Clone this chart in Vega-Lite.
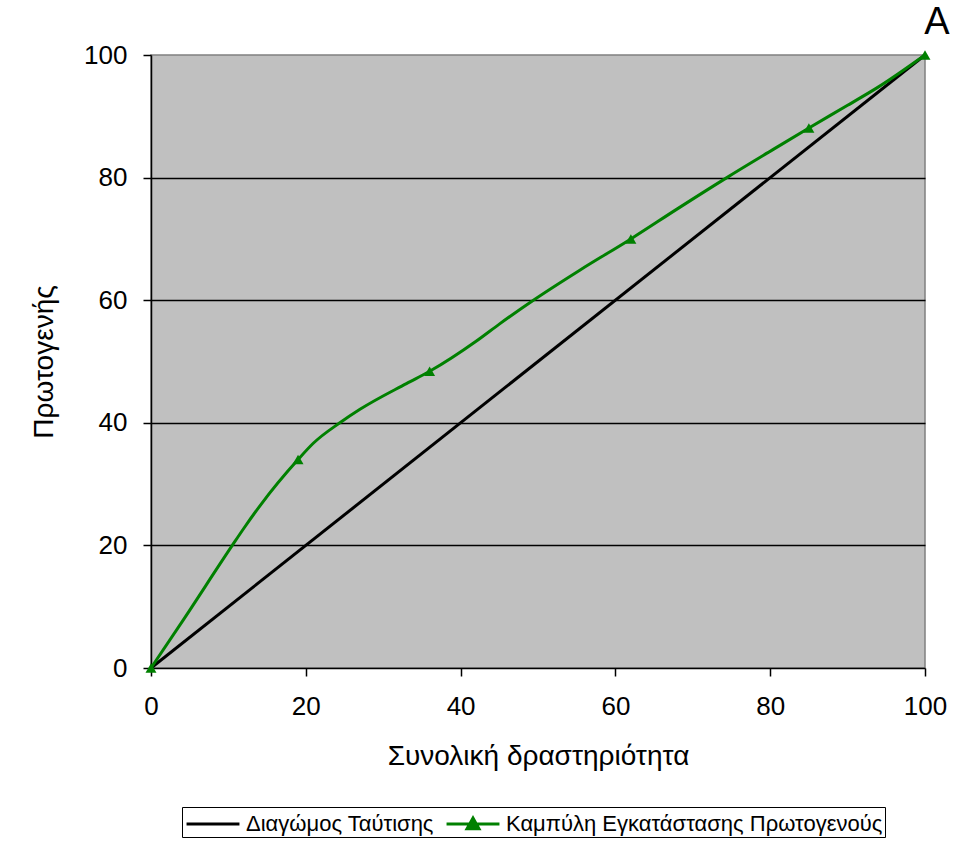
{
  "$schema": "https://vega.github.io/schema/vega-lite/v6.json",
  "width": 774,
  "height": 613,
  "autosize": "none",
  "padding": {"left": 151, "top": 55, "right": 33, "bottom": 174},
  "background": "white",
  "config": {
    "font": "Liberation Sans",
    "view": {"fill": "#C0C0C0", "stroke": "#808080", "strokeWidth": 1.5}
  },
  "data": {
    "values": [
      {"s": "Διαγώμος Ταύτισης", "x": 0, "y": 0, "m": 0},
      {"s": "Διαγώμος Ταύτισης", "x": 100, "y": 100, "m": 0},
      {"s": "Καμπύλη Εγκατάστασης Πρωτογενούς", "x": 0, "y": 0, "m": 1},
      {"s": "Καμπύλη Εγκατάστασης Πρωτογενούς", "x": 4.2, "y": 7.9, "m": 0},
      {"s": "Καμπύλη Εγκατάστασης Πρωτογενούς", "x": 10.5, "y": 20, "m": 0},
      {"s": "Καμπύλη Εγκατάστασης Πρωτογενούς", "x": 12, "y": 22.8, "m": 0},
      {"s": "Καμπύλη Εγκατάστασης Πρωτογενούς", "x": 14.1, "y": 26.5, "m": 0},
      {"s": "Καμπύλη Εγκατάστασης Πρωτογενούς", "x": 19, "y": 34, "m": 1},
      {"s": "Καμπύλη Εγκατάστασης Πρωτογενούς", "x": 21, "y": 36.7, "m": 0},
      {"s": "Καμπύλη Εγκατάστασης Πρωτογενούς", "x": 24.4, "y": 40, "m": 0},
      {"s": "Καμπύλη Εγκατάστασης Πρωτογενούς", "x": 27, "y": 42.2, "m": 0},
      {"s": "Καμπύλη Εγκατάστασης Πρωτογενούς", "x": 33, "y": 46.4, "m": 0},
      {"s": "Καμπύλη Εγκατάστασης Πρωτογενούς", "x": 36, "y": 48.4, "m": 1},
      {"s": "Καμπύλη Εγκατάστασης Πρωτογενούς", "x": 42, "y": 53.3, "m": 0},
      {"s": "Καμπύλη Εγκατάστασης Πρωτογενούς", "x": 45, "y": 56.1, "m": 0},
      {"s": "Καμπύλη Εγκατάστασης Πρωτογενούς", "x": 49.4, "y": 60, "m": 0},
      {"s": "Καμπύλη Εγκατάστασης Πρωτογενούς", "x": 55.4, "y": 64.9, "m": 0},
      {"s": "Καμπύλη Εγκατάστασης Πρωτογενούς", "x": 62, "y": 70, "m": 1},
      {"s": "Καμπύλη Εγκατάστασης Πρωτογενούς", "x": 68, "y": 74.9, "m": 0},
      {"s": "Καμπύλη Εγκατάστασης Πρωτογενούς", "x": 74.4, "y": 80, "m": 0},
      {"s": "Καμπύλη Εγκατάστασης Πρωτογενούς", "x": 80.4, "y": 84.6, "m": 0},
      {"s": "Καμπύλη Εγκατάστασης Πρωτογενούς", "x": 85, "y": 88.1, "m": 1},
      {"s": "Καμπύλη Εγκατάστασης Πρωτογενούς", "x": 90, "y": 91.8, "m": 0},
      {"s": "Καμπύλη Εγκατάστασης Πρωτογενούς", "x": 94, "y": 94.8, "m": 0},
      {"s": "Καμπύλη Εγκατάστασης Πρωτογενούς", "x": 100, "y": 100, "m": 1}
    ]
  },
  "encoding": {
    "x": {
      "field": "x", "type": "quantitative",
      "scale": {"domain": [0, 100], "nice": false, "zero": false},
      "axis": {
        "title": "Συνολική δραστηριότητα",
        "values": [0, 20, 40, 60, 80, 100],
        "grid": false,
        "domainColor": "black", "domainWidth": 1.5,
        "tickColor": "black", "tickSize": 8, "tickWidth": 1.5,
        "labelFontSize": 26, "labelColor": "black", "labelPadding": 17,
        "labelFlush": false,
        "titleFontSize": 28, "titleFontWeight": "normal", "titleColor": "black",
        "titlePadding": 23
      }
    },
    "y": {
      "field": "y", "type": "quantitative",
      "scale": {"domain": [0, 100], "nice": false, "zero": false},
      "axis": {
        "title": "Πρωτογενής",
        "values": [0, 20, 40, 60, 80, 100],
        "grid": true,
        "gridColor": {"condition": {"test": "datum.value === 0 || datum.value === 100", "value": "transparent"}, "value": "black"},
        "gridWidth": 1.5, "gridOpacity": 1,
        "domainColor": "black", "domainWidth": 1.5,
        "tickColor": "black", "tickSize": 8, "tickWidth": 1.5,
        "labelFontSize": 26, "labelColor": "black", "labelPadding": 16,
        "labelFlush": false,
        "titleFontSize": 28, "titleFontWeight": "normal", "titleColor": "black",
        "titlePadding": 25
      }
    }
  },
  "layer": [
    {
      "mark": {"type": "line", "interpolate": "monotone", "strokeWidth": 3},
      "encoding": {
        "color": {
          "field": "s", "type": "nominal",
          "scale": {"domain": ["Διαγώμος Ταύτισης", "Καμπύλη Εγκατάστασης Πρωτογενούς"], "range": ["black", "#008000"]},
          "legend": {
            "title": null,
            "orient": "none",
            "legendX": 31,
            "legendY": 752,
            "direction": "horizontal",
            "strokeColor": "black",
            "fillColor": "white",
            "padding": 2,
            "labelFontSize": 22,
            "labelColor": "black",
            "labelFont": "Liberation Sans",
            "labelLimit": 0,
            "symbolSize": 700,
            "symbolOffset": 14,
            "symbolStrokeWidth": 3,
            "columnPadding": 6,
            "labelOffset": 18,
            "encode": {
              "symbols": {
                "update": {
                  "shape": {"signal": "datum.value === 'Καμπύλη Εγκατάστασης Πρωτογενούς' ? 'M-2,0H2M-0.45,0.35L0,-0.45L0.45,0.35Z' : 'M-2,0H2'"},
                  "fill": {"scale": "color", "field": "value"},
                  "stroke": {"scale": "color", "field": "value"},
                  "strokeWidth": {"value": 3}
                }
              }
            }
          }
        }
      }
    },
    {
      "transform": [{"filter": "datum.m === 1"}],
      "mark": {"type": "point", "shape": "triangle-up", "filled": true, "size": 120, "color": "#008000", "opacity": 1}
    },
    {
      "transform": [{"filter": "datum.m === 1 && datum.x === 100"}],
      "mark": {"type": "text", "text": "A", "fontSize": 38, "dx": 12, "dy": -32, "color": "black", "font": "Liberation Sans"}
    }
  ]
}
